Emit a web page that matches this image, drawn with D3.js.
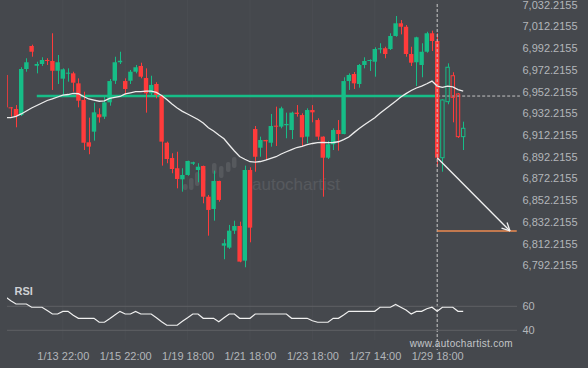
<!DOCTYPE html>
<html><head><meta charset="utf-8">
<script src="https://cdn.jsdelivr.net/npm/d3@7"></script>
<style>html,body{margin:0;padding:0;background:#45484d;}svg{display:block;}</style>
</head><body><svg id="c" width="588" height="368"></svg>
<script>
const opens = [6967.5,6937.7,6936.2,6930.6,6973.0,6994.2,6976.0,6977.6,6981.3,6980.4,
6971.4,6964.1,6969.0,6969.0,6959.8,6944.5,6905.5,6915.3,6931.3,6929.1,
6942.3,6962.2,6979.2,6961.9,6962.2,6970.5,6975.8,6964.7,6950.6,6959.2,
6948.1,6905.1,6891.0,6881.6,6871.4,6875.4,6885.8,6880.0,6883.7,6855.4,
6844.1,6869.9,6810.3,6808.5,6824.1,6828.4,6796.5,6880.0,6917.7,6900.5,
6907.6,6905.1,6920.8,6919.9,6921.2,6916.8,6932.8,6930.6,6910.7,6935.2,
6926.0,6910.7,6891.3,6903.7,6916.8,6913.1,6961.9,6968.4,6959.2,6976.7,
6980.4,6979.7,6991.1,6992.1,6991.4,7003.4,7015.1,7011.9,6986.8,6979.2,
6976.7,6988.9,7005.9,6998.8,6891.3,6942.9,6966.8,6950.0,6910.7];
const highs = [6967.5,6937.9,6939.8,6974.6,6982.9,6995.4,6979.7,6983.8,6982.9,7005.9,
6985.9,6973.6,6973.6,6970.5,6964.4,6952.1,6928.2,6942.0,6936.8,6948.1,
6963.8,6984.3,6988.9,6964.4,6972.1,6976.7,6978.8,6973.6,6966.8,6960.8,
6949.1,6906.1,6895.4,6896.8,6881.6,6888.6,6887.6,6886.2,6884.0,6857.0,
6879.4,6870.1,6816.2,6829.4,6833.3,6832.4,6884.0,6882.5,6920.5,6910.7,
6907.8,6931.6,6938.3,6938.3,6932.8,6933.7,6939.8,6932.2,6936.8,6939.8,
6927.6,6911.0,6906.7,6918.4,6926.0,6965.4,6969.0,6970.2,6977.6,6983.8,
6981.9,6993.0,6996.7,6993.5,7005.9,7021.8,7018.1,7013.5,6993.5,7002.7,
6996.7,7007.3,7008.3,7005.9,6945.1,6978.2,6970.0,6950.9,6924.5];
const lows = [6937.7,6929.1,6919.3,6929.7,6970.5,6984.3,6969.0,6975.8,6976.7,6953.7,
6959.2,6949.1,6961.3,6952.1,6937.7,6898.4,6894.5,6907.0,6923.6,6927.0,
6939.2,6959.2,6977.6,6949.1,6959.2,6969.0,6964.4,6932.8,6948.1,6946.0,
6884.0,6886.2,6877.0,6863.1,6860.0,6874.7,6884.6,6868.7,6849.3,6819.5,
6833.3,6850.8,6797.8,6807.3,6821.1,6795.0,6790.4,6813.4,6878.4,6892.2,
6889.2,6901.5,6902.1,6918.4,6909.2,6908.5,6929.1,6901.5,6904.6,6923.9,
6907.6,6855.4,6890.1,6898.4,6897.8,6912.9,6953.7,6954.6,6955.8,6973.6,
6971.2,6965.9,6987.5,6982.9,6990.5,7002.7,7004.9,6984.3,6975.8,6957.3,
6965.4,6988.0,6989.6,6883.0,6878.4,6940.5,6923.9,6909.5,6898.4];
const closes = [6937.7,6937.0,6929.7,6973.0,6979.2,6988.9,6977.6,6981.3,6980.4,6971.4,
6979.2,6972.7,6969.6,6960.4,6943.8,6905.1,6901.5,6933.1,6928.5,6942.3,
6961.9,6979.2,6980.6,6954.6,6970.5,6974.6,6965.9,6950.6,6958.3,6949.1,
6906.1,6890.1,6880.9,6871.7,6875.4,6888.3,6887.1,6883.0,6855.4,6843.2,
6869.9,6852.4,6812.5,6824.1,6828.4,6795.6,6880.0,6826.9,6892.2,6907.6,
6906.4,6920.5,6919.9,6936.8,6922.4,6932.8,6931.6,6910.1,6935.2,6933.1,
6910.7,6891.3,6903.7,6916.8,6913.1,6961.9,6967.5,6959.8,6976.7,6980.4,
6981.3,6991.4,6992.1,6986.8,7003.4,7015.1,7011.9,6986.8,6978.8,7002.2,
6988.9,7005.9,6998.8,6891.3,6944.5,6974.6,6946.9,6910.7,6918.4];
const maValues = [6928.2,6928.3,6929.3,6931.6,6934.3,6937.1,6939.4,6941.7,6944.0,6945.4,
6947.2,6948.9,6949.5,6950.5,6950.2,6947.7,6945.4,6944.3,6943.3,6943.7,
6945.9,6946.9,6947.7,6950.0,6951.1,6952.1,6952.2,6952.6,6952.7,6951.4,
6948.6,6944.9,6940.8,6937.1,6934.0,6931.6,6929.0,6926.5,6923.3,6918.9,
6915.9,6912.2,6908.7,6903.0,6897.5,6892.4,6889.9,6887.6,6887.2,6887.8,
6889.0,6890.6,6892.2,6894.7,6896.8,6898.7,6900.7,6901.8,6903.3,6904.4,
6905.2,6905.3,6905.2,6905.3,6906.0,6908.0,6910.4,6914.4,6918.1,6921.7,
6924.9,6928.1,6932.2,6936.0,6939.7,6943.2,6947.2,6950.3,6953.2,6955.5,
6957.3,6959.4,6961.9,6957.3,6956.1,6957.3,6956.6,6954.1,6952.7];
const rsiValues = [67.8,64.7,61.9,61.9,61.9,59.2,59.2,59.2,56.4,53.6,
53.6,55.8,55.8,52.5,50,50,50,50,46.7,46.7,
49.6,52.8,55.8,53.6,53.6,55.8,53.6,53.6,53.6,50.4,
47.2,44.2,44.2,44.2,47.5,50.4,53.6,53.6,50,50,
50,47.2,50.5,53.6,53.6,50,50,50,53.6,53.6,
53.6,53.6,53.6,53.6,53.6,50,50,50,50,48,
46.7,46.7,46.7,50,50,52.8,55.8,55.8,55.8,55.8,
55.8,55.8,59.2,59.2,59.2,61.6,59.2,56.9,53.6,55.8,
55.8,58,59.2,55.8,59.2,59.2,59.2,55.8,55.8];
const priceTicks = [6792.2155,6812.2155,6832.2155,6852.2155,6872.2155,6892.2155,6912.2155,6932.2155,6952.2155,6972.2155,6992.2155,7012.2155,7032.2155];
const timeLabels = ["1/13 22:00","1/15 22:00","1/19 18:00","1/21 18:00","1/23 18:00","1/27 14:00","1/29 18:00"];
const timeLabelIdx = [11,23,35,47,59,71,83];
const rsiTicks = [40,60];
const hollowFrom = 84;
const resistanceLevel = 6948.1;
const resistanceStart = 6;
const patternEnd = 83;
const targetLevel = 6823.8;
const arrowEndIdx = 97;
const targetEndIdx = 98.3;
const dashEndIdx = 98.9;

const GREEN = "#16bd87", RED = "#ff3b3b", BG = "#45484d";
const FONT = "'Liberation Sans', Arial, sans-serif";
const svg = d3.select("#c");
svg.append("rect").attr("width",588).attr("height",368).attr("fill",BG);

const x = d3.scaleLinear().domain([0,88]).range([5.6,5.6+88*5.2]);
const y = d3.scaleLinear().domain([6792.2155,7032.2155]).range([265.3,4.7]);
const yr = d3.scaleLinear().domain([40,60]).range([330.3,306.3]);

svg.append("defs").append("clipPath").attr("id","clp")
  .append("rect").attr("x",7).attr("y",0).attr("width",520).attr("height",368);

// faint vertical grid
svg.append("g").selectAll("line").data(timeLabelIdx).join("line")
  .attr("x1",d=>x(d)).attr("x2",d=>x(d)).attr("y1",0).attr("y2",340)
  .attr("stroke","#4a4d52").attr("stroke-width",1);

// watermark
const wm = svg.append("g").attr("opacity",0.09);
const logoBars = [[183,184,190],[189,178,190],[195,172,186],[201,168,182],[212,163,174],[219,166,178],[226,162,172],[232,157,168]];
wm.selectAll("rect").data(logoBars).join("rect")
  .attr("x",d=>d[0]).attr("y",d=>d[1]).attr("width",4.5).attr("height",d=>d[2]-d[1])
  .attr("rx",2).attr("fill","#ffffff");
wm.append("text").attr("x",252).attr("y",190).attr("font-family",FONT)
  .attr("font-size",17).attr("fill","#ffffff").text("autochartist");

const plot = svg.append("g").attr("clip-path","url(#clp)");

// resistance line
plot.append("line").attr("x1",x(resistanceStart)).attr("x2",x(patternEnd))
  .attr("y1",y(resistanceLevel)).attr("y2",y(resistanceLevel))
  .attr("stroke",GREEN).attr("stroke-width",2.4);
plot.append("line").attr("x1",x(patternEnd)).attr("x2",x(dashEndIdx))
  .attr("y1",y(resistanceLevel)).attr("y2",y(resistanceLevel))
  .attr("stroke","#c4c4c4").attr("stroke-width",1).attr("stroke-dasharray","3,2");

// candles
const idx = d3.range(opens.length);
const bw = 4.4;
const cg = plot.append("g");
idx.forEach(i=>{
  const up = closes[i] >= opens[i];
  const col = up ? GREEN : RED;
  const top = y(Math.max(opens[i],closes[i])), bot = y(Math.min(opens[i],closes[i]));
  const cx = x(i);
  const hollow = i >= hollowFrom;
  const wx = Math.round(cx)+0.5;
  if (!hollow) {
    cg.append("line").attr("x1",wx).attr("x2",wx).attr("y1",y(highs[i])).attr("y2",y(lows[i]))
      .attr("stroke",col).attr("stroke-width",1);
    cg.append("rect").attr("x",cx-bw/2).attr("y",top).attr("width",bw).attr("height",Math.max(1,bot-top))
      .attr("fill",col);
  } else {
    cg.append("line").attr("x1",wx).attr("x2",wx).attr("y1",y(highs[i])).attr("y2",top)
      .attr("stroke",col).attr("stroke-width",1);
    cg.append("line").attr("x1",wx).attr("x2",wx).attr("y1",bot).attr("y2",y(lows[i]))
      .attr("stroke",col).attr("stroke-width",1);
    cg.append("rect").attr("x",cx-bw/2+0.5).attr("y",top).attr("width",bw-1).attr("height",Math.max(1,bot-top))
      .attr("fill","none").attr("stroke",col).attr("stroke-width",1);
  }
});

// moving average
plot.append("path").datum(maValues)
  .attr("d",d3.line().x((d,i)=>x(i)).y(d=>y(d)))
  .attr("fill","none").attr("stroke","#ececec").attr("stroke-width",1.3);

// vertical dashed marker
svg.append("line").attr("x1",x(patternEnd)).attr("x2",x(patternEnd)).attr("y1",4).attr("y2",350)
  .attr("stroke","#c8c8c8").attr("stroke-width",1).attr("stroke-dasharray","3,2");

// target line
svg.append("line").attr("x1",x(patternEnd)).attr("x2",x(targetEndIdx))
  .attr("y1",y(targetLevel)).attr("y2",y(targetLevel))
  .attr("stroke","#ec8a50").attr("stroke-width",1.5);

// arrow
const ax0 = x(patternEnd), ay0 = y(closes[patternEnd]), ax1 = x(arrowEndIdx), ay1 = y(targetLevel);
svg.append("line").attr("x1",ax0).attr("y1",ay0).attr("x2",ax1).attr("y2",ay1)
  .attr("stroke","#f2f2f2").attr("stroke-width",1.3);
const ang = Math.atan2(ay1-ay0, ax1-ax0), hl = 9;
[-0.45,0.45].forEach(a=>{
  svg.append("line").attr("x1",ax1).attr("y1",ay1)
    .attr("x2",ax1-hl*Math.cos(ang+a)).attr("y2",ay1-hl*Math.sin(ang+a))
    .attr("stroke","#f2f2f2").attr("stroke-width",1.3);
});

// price axis
const pa = svg.append("g").attr("transform","translate(522.5,0)")
  .call(d3.axisRight(y).tickValues(priceTicks).tickFormat(d3.format(",.4f")).tickSize(0).tickPadding(0));
pa.select(".domain").remove();
pa.selectAll("text").attr("font-family",FONT).attr("font-size",11).attr("fill","#b3b6ba");

// RSI pane
svg.append("g").selectAll("line").data(rsiTicks).join("line")
  .attr("x1",7).attr("x2",517).attr("y1",d=>yr(d)).attr("y2",d=>yr(d))
  .attr("stroke","#5e6165").attr("stroke-width",1);
const ra = svg.append("g").attr("transform","translate(522.5,0)")
  .call(d3.axisRight(yr).tickValues(rsiTicks).tickFormat(d3.format("d")).tickSize(0).tickPadding(0));
ra.select(".domain").remove();
ra.selectAll("text").attr("font-family",FONT).attr("font-size",11).attr("fill","#b3b6ba");
svg.append("g").attr("clip-path","url(#clp)").append("path").datum(rsiValues)
  .attr("d",d3.line().x((d,i)=>x(i)).y(d=>yr(d)))
  .attr("fill","none").attr("stroke","#f0f0f0").attr("stroke-width",1.2);
svg.append("text").attr("x",14.5).attr("y",295).attr("font-family",FONT).attr("font-weight","bold")
  .attr("font-size",11).attr("fill","#cfd1d4").text("RSI");

// time axis
const ta = svg.append("g").attr("transform","translate(0,349)")
  .call(d3.axisBottom(x).tickValues(timeLabelIdx).tickFormat((d,i)=>timeLabels[i]).tickSize(0).tickPadding(3));
ta.select(".domain").remove();
ta.selectAll("text").attr("font-family",FONT).attr("font-size",11).attr("fill","#b3b6ba");

// footer
svg.append("text").attr("x",513).attr("y",347).attr("text-anchor","end").attr("font-family",FONT)
  .attr("font-size",10).attr("letter-spacing",0.3).attr("fill","#c3c5c8").text("www.autochartist.com");
</script></body></html>
